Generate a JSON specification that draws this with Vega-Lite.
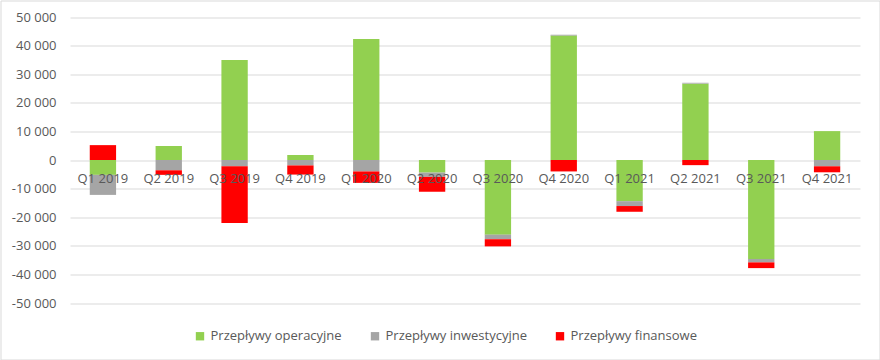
{
  "$schema": "https://vega.github.io/schema/vega-lite/v6.json",
  "width": 879,
  "height": 359,
  "autosize": {"type": "none"},
  "padding": {"left": 0.5, "top": 0.5, "right": 0.5, "bottom": 0.5},
  "background": "white",
  "config": {
    "font": "Open Sans",
    "view": {"stroke": "#d9d9d9", "strokeWidth": 1},
    "axis": {"labelColor": "#595959", "labelFontSize": 12, "titleFontSize": 12}
  },
  "data": {
    "values": [
      {"q": "Q1 2019", "s": "Przepływy operacyjne", "v": -5200},
      {"q": "Q1 2019", "s": "Przepływy inwestycyjne", "v": -7000},
      {"q": "Q1 2019", "s": "Przepływy finansowe", "v": 5200},
      {"q": "Q2 2019", "s": "Przepływy operacyjne", "v": 4900},
      {"q": "Q2 2019", "s": "Przepływy inwestycyjne", "v": -3600},
      {"q": "Q2 2019", "s": "Przepływy finansowe", "v": -1600},
      {"q": "Q3 2019", "s": "Przepływy operacyjne", "v": 35000},
      {"q": "Q3 2019", "s": "Przepływy inwestycyjne", "v": -2200},
      {"q": "Q3 2019", "s": "Przepływy finansowe", "v": -19800},
      {"q": "Q4 2019", "s": "Przepływy operacyjne", "v": 1750},
      {"q": "Q4 2019", "s": "Przepływy inwestycyjne", "v": -1900},
      {"q": "Q4 2019", "s": "Przepływy finansowe", "v": -3200},
      {"q": "Q1 2020", "s": "Przepływy operacyjne", "v": 42300},
      {"q": "Q1 2020", "s": "Przepływy inwestycyjne", "v": -4000},
      {"q": "Q1 2020", "s": "Przepływy finansowe", "v": -4000},
      {"q": "Q2 2020", "s": "Przepływy operacyjne", "v": -4400},
      {"q": "Q2 2020", "s": "Przepływy inwestycyjne", "v": -1500},
      {"q": "Q2 2020", "s": "Przepływy finansowe", "v": -5200},
      {"q": "Q3 2020", "s": "Przepływy operacyjne", "v": -26100},
      {"q": "Q3 2020", "s": "Przepływy inwestycyjne", "v": -1600},
      {"q": "Q3 2020", "s": "Przepływy finansowe", "v": -2500},
      {"q": "Q4 2020", "s": "Przepływy operacyjne", "v": 43500},
      {"q": "Q4 2020", "s": "Przepływy inwestycyjne", "v": 300},
      {"q": "Q4 2020", "s": "Przepływy finansowe", "v": -4000},
      {"q": "Q1 2021", "s": "Przepływy operacyjne", "v": -14400},
      {"q": "Q1 2021", "s": "Przepływy inwestycyjne", "v": -1700},
      {"q": "Q1 2021", "s": "Przepływy finansowe", "v": -2000},
      {"q": "Q2 2021", "s": "Przepływy operacyjne", "v": 26700},
      {"q": "Q2 2021", "s": "Przepływy inwestycyjne", "v": 300},
      {"q": "Q2 2021", "s": "Przepływy finansowe", "v": -1800},
      {"q": "Q3 2021", "s": "Przepływy operacyjne", "v": -34600},
      {"q": "Q3 2021", "s": "Przepływy inwestycyjne", "v": -1200},
      {"q": "Q3 2021", "s": "Przepływy finansowe", "v": -2000},
      {"q": "Q4 2021", "s": "Przepływy operacyjne", "v": 10100},
      {"q": "Q4 2021", "s": "Przepływy inwestycyjne", "v": -2200},
      {"q": "Q4 2021", "s": "Przepływy finansowe", "v": -2100}
    ]
  },
  "mark": {"type": "bar"},
  "encoding": {
    "x": {
      "field": "q",
      "type": "nominal",
      "sort": null,
      "scale": {"paddingInner": 0.6, "paddingOuter": 0.3, "range": [69.5, 859.5]},
      "axis": {
        "title": null,
        "labelAngle": 0,
        "domain": false,
        "ticks": false,
        "offset": -199,
        "labelPadding": 12,
        "labelFontSize": 13,
        "zindex": 1
      }
    },
    "y": {
      "field": "v",
      "type": "quantitative",
      "stack": "zero",
      "scale": {"domain": [-50000, 50000], "nice": false, "range": [302.5, 16.5]},
      "axis": {
        "title": null,
        "values": [-50000, -40000, -30000, -20000, -10000, 0, 10000, 20000, 30000, 40000, 50000],
        "labelOverlap": false,
        "domain": false,
        "ticks": false,
        "gridColor": "#d9d9d9",
        "offset": -69.5,
        "labelPadding": 14,
        "labelFontSize": 13,
        "zindex": 0,
        "labelExpr": "(datum.value < 0 ? '-' : '') + replace(format(abs(datum.value), ',d'), ',', ' ')"
      }
    },
    "color": {
      "field": "s",
      "type": "nominal",
      "scale": {
        "domain": ["Przepływy operacyjne", "Przepływy inwestycyjne", "Przepływy finansowe"],
        "range": ["#92d050", "#a5a5a5", "#ff0000"]
      },
      "legend": {
        "title": null,
        "orient": "none",
        "legendX": 193,
        "legendY": 329,
        "direction": "horizontal",
        "symbolType": "square",
        "symbolSize": 70,
        "symbolStrokeWidth": 0,
        "labelFontSize": 13,
        "labelColor": "#595959",
        "columnPadding": 26
      }
    },
    "order": {"field": "s", "sort": "descending"}
  }
}
